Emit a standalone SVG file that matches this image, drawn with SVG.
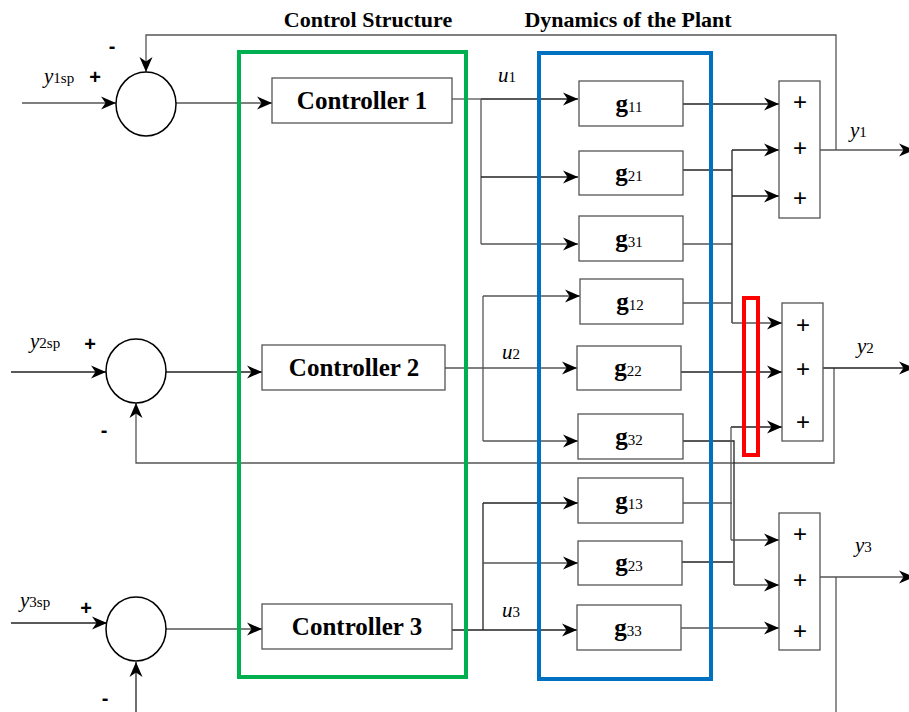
<svg xmlns="http://www.w3.org/2000/svg" width="909" height="712" viewBox="0 0 909 712">
<style>
.bg{fill:#fff}
.box{fill:#fff;stroke:#555;stroke-width:1.3}
.sum{fill:#fff;stroke:#000;stroke-width:1.5}
.ln{fill:none;stroke:#555;stroke-width:1.3}
.lk{fill:none;stroke:#222;stroke-width:1.3}
.arr{marker-end:url(#ah)}
.title{font-family:"Liberation Serif",serif;font-weight:bold;font-size:22px;fill:#000}
.ctl{font-family:"Liberation Serif",serif;font-weight:bold;font-size:25px;fill:#000}
.g{font-family:"Liberation Serif",serif;font-weight:bold;font-size:25px}
.sub{font-family:"Liberation Serif",serif;font-size:15px}
.var{font-family:"Liberation Serif",serif;font-style:italic;font-size:21px}
.sgn{font-family:"Liberation Sans",sans-serif;font-size:20px;font-weight:bold;fill:#000}
.pl{font-family:"Liberation Sans",sans-serif;font-size:24px;fill:#000}
</style>
<defs>
<marker id="ah" markerUnits="userSpaceOnUse" markerWidth="16" markerHeight="14" refX="15" refY="7" orient="auto" overflow="visible">
<path d="M0,0.5 L15,7 L0,13.5 L4.5,7 Z" fill="#000"/>
</marker>
</defs>
<rect class="bg" x="0" y="0" width="909" height="712"/>

<text class="title" x="368" y="27" text-anchor="middle">Control Structure</text>
<text class="title" x="628" y="27" text-anchor="middle">Dynamics of the Plant</text>

<g id="connectors">
<path class="ln arr" d="M22,103 H116"/>
<path class="ln arr" d="M176,103 H272"/>
<path class="ln arr" d="M836,150 V35 H146 V72"/>
<path class="lk arr" d="M11,372 H106"/>
<path class="lk arr" d="M166,372 H262"/>
<path class="ln arr" d="M834,368 V463 H136 V403"/>
<path class="lk arr" d="M11,623 H107"/>
<path class="ln arr" d="M166,629 H262"/>
<path class="lk arr" d="M136,712 V662"/>

<path class="ln" d="M452,99 H481"/>
<path class="lk arr" d="M481,99 H578"/>
<path class="ln" d="M481,99 V244"/>
<path class="lk arr" d="M481,177 H578"/>
<path class="ln arr" d="M481,244 H578"/>

<path class="ln arr" d="M445,368 H577"/>
<path class="ln" d="M483,296 V441"/>
<path class="ln arr" d="M483,296 H580"/>
<path class="ln arr" d="M483,441 H578"/>

<path class="lk arr" d="M452,630 H577"/>
<path class="lk" d="M483,503 V630"/>
<path class="lk arr" d="M483,503 H578"/>
<path class="ln arr" d="M483,563 H578"/>

<path class="lk arr" d="M683,104 H779"/>
<path class="lk" d="M683,170 H732"/>
<path class="ln" d="M683,244 H732"/>
<path class="lk" d="M732,150 V323"/>
<path class="lk arr" d="M732,150 H779"/>
<path class="lk arr" d="M732,196 H779"/>
<path class="ln" d="M683,303 H732"/>
<path class="ln arr" d="M732,323 H782"/>
<path class="lk arr" d="M681,372 H782"/>
<path class="lk" d="M683,441 H734 V585"/>
<path class="lk arr" d="M731,427 H782"/>
<path class="ln" d="M731,427 V540"/>
<path class="ln" d="M683,503 H732"/>
<path class="ln arr" d="M731,540 H779"/>
<path class="lk" d="M680,562 H733"/>
<path class="ln arr" d="M734,585 H779"/>
<path class="ln arr" d="M681,628 H779"/>

<path class="ln arr" d="M820,150 H914"/>
<path class="lk arr" d="M823,368 H914"/>
<path class="ln arr" d="M820,577 H914"/>
<path class="ln" d="M836,577 V712"/>
</g>

<rect x="239" y="52" width="227" height="625" fill="none" stroke="#00b050" stroke-width="4"/>
<rect x="539" y="53" width="172" height="626" fill="none" stroke="#0070c0" stroke-width="4"/>
<rect x="744" y="298" width="14" height="157" fill="none" stroke="#ff0000" stroke-width="4"/>

<g id="sum1"><ellipse class="sum" cx="146" cy="104" rx="30" ry="32"/></g>
<g id="sum2"><ellipse class="sum" cx="136" cy="371" rx="30" ry="32"/></g>
<g id="sum3"><ellipse class="sum" cx="136" cy="629" rx="30" ry="32"/></g>

<g id="labels-in">
<text x="44" y="83"><tspan class="var">y</tspan><tspan class="sub">1sp</tspan></text>
<text class="sgn" x="95" y="84" text-anchor="middle">+</text>
<text class="sgn" x="112" y="53" text-anchor="middle">-</text>
<text x="30" y="348"><tspan class="var">y</tspan><tspan class="sub">2sp</tspan></text>
<text class="sgn" x="90" y="351" text-anchor="middle">+</text>
<text class="sgn" x="104" y="437" text-anchor="middle">-</text>
<text x="20" y="607"><tspan class="var">y</tspan><tspan class="sub">3sp</tspan></text>
<text class="sgn" x="86" y="615" text-anchor="middle">+</text>
<text class="sgn" x="105" y="705" text-anchor="middle">-</text>
</g>

<g id="controller1"><rect class="box" x="272" y="78" width="180" height="45"/><text class="ctl" x="362" y="109" text-anchor="middle">Controller 1</text></g>
<g id="controller2"><rect class="box" x="262" y="345" width="183" height="45"/><text class="ctl" x="354" y="376" text-anchor="middle">Controller 2</text></g>
<g id="controller3"><rect class="box" x="262" y="604" width="190" height="45"/><text class="ctl" x="357" y="635" text-anchor="middle">Controller 3</text></g>

<g id="u-labels">
<text x="498" y="82"><tspan class="var">u</tspan><tspan class="sub">1</tspan></text>
<text x="502" y="359"><tspan class="var">u</tspan><tspan class="sub">2</tspan></text>
<text x="502" y="617"><tspan class="var">u</tspan><tspan class="sub">3</tspan></text>
</g>

<g id="g11"><rect class="box" x="579" y="81" width="104" height="45"/><text x="629" y="112" text-anchor="middle"><tspan class="g">g</tspan><tspan class="sub">11</tspan></text></g>
<g id="g21"><rect class="box" x="579" y="151" width="104" height="44"/><text x="629" y="181" text-anchor="middle"><tspan class="g">g</tspan><tspan class="sub">21</tspan></text></g>
<g id="g31"><rect class="box" x="579" y="216" width="104" height="45"/><text x="629" y="247" text-anchor="middle"><tspan class="g">g</tspan><tspan class="sub">31</tspan></text></g>
<g id="g12"><rect class="box" x="580" y="279" width="103" height="45"/><text x="630" y="310" text-anchor="middle"><tspan class="g">g</tspan><tspan class="sub">12</tspan></text></g>
<g id="g22"><rect class="box" x="577" y="346" width="104" height="44"/><text x="628" y="376" text-anchor="middle"><tspan class="g">g</tspan><tspan class="sub">22</tspan></text></g>
<g id="g32"><rect class="box" x="578" y="414" width="105" height="45"/><text x="629" y="445" text-anchor="middle"><tspan class="g">g</tspan><tspan class="sub">32</tspan></text></g>
<g id="g13"><rect class="box" x="578" y="478" width="105" height="45"/><text x="629" y="509" text-anchor="middle"><tspan class="g">g</tspan><tspan class="sub">13</tspan></text></g>
<g id="g23"><rect class="box" x="578" y="541" width="104" height="44"/><text x="629" y="571" text-anchor="middle"><tspan class="g">g</tspan><tspan class="sub">23</tspan></text></g>
<g id="g33"><rect class="box" x="577" y="605" width="104" height="45"/><text x="628" y="636" text-anchor="middle"><tspan class="g">g</tspan><tspan class="sub">33</tspan></text></g>

<g id="adder1"><rect class="box" x="779" y="81" width="41" height="137"/>
<text class="pl" x="800" y="110" text-anchor="middle">+</text>
<text class="pl" x="800" y="156" text-anchor="middle">+</text>
<text class="pl" x="800" y="206" text-anchor="middle">+</text></g>
<g id="adder2"><rect class="box" x="782" y="303" width="41" height="138"/>
<text class="pl" x="803" y="333" text-anchor="middle">+</text>
<text class="pl" x="803" y="377" text-anchor="middle">+</text>
<text class="pl" x="803" y="430" text-anchor="middle">+</text></g>
<g id="adder3"><rect class="box" x="779" y="513" width="41" height="137"/>
<text class="pl" x="800" y="542" text-anchor="middle">+</text>
<text class="pl" x="800" y="588" text-anchor="middle">+</text>
<text class="pl" x="800" y="639" text-anchor="middle">+</text></g>

<g id="y-labels">
<text x="850" y="137"><tspan class="var">y</tspan><tspan class="sub">1</tspan></text>
<text x="857" y="353"><tspan class="var">y</tspan><tspan class="sub">2</tspan></text>
<text x="855" y="552"><tspan class="var">y</tspan><tspan class="sub">3</tspan></text>
</g>
</svg>
